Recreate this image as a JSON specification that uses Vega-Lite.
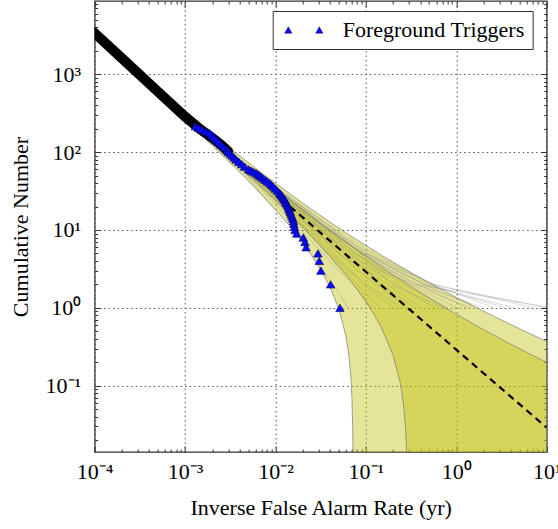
{
"$schema":"https://vega.github.io/schema/vega-lite/v6.json",
"width":452,"height":451,
"autosize":{"type":"none"},
"padding":{"left":94.7,"top":1,"right":11.3,"bottom":77},
"config":{"font":"Liberation Serif","view":{"stroke":"#333","strokeWidth":1.3},
"axis":{"labelFont":"Liberation Serif","labelFontSize":22,"titleFont":"Liberation Serif","titleFontSize":22,"titleFontWeight":"normal","labelColor":"black","titleColor":"black","tickColor":"#333","tickWidth":1,"domain":false,"labelOverlap":false,"labelFlush":false,"gridColor":"#555","gridDash":[1.5,3],"gridWidth":1}},
"datasets":{
"outer":[{"x":0.0017,"hi":196.7,"lo":144.5},{"x":0.002,"hi":169.1,"lo":120.9},{"x":0.003,"hi":116.3,"lo":77.0},{"x":0.004,"hi":89.5,"lo":55.5},{"x":0.006,"hi":62.2,"lo":34.4},{"x":0.008,"hi":48.3,"lo":24.2},{"x":0.01,"hi":39.8,"lo":18.2},{"x":0.013,"hi":31.8,"lo":12.9},{"x":0.016,"hi":26.6,"lo":9.61},{"x":0.02,"hi":22.1,"lo":6.88},{"x":0.025,"hi":18.4,"lo":4.79},{"x":0.03,"hi":15.9,"lo":3.45},{"x":0.04,"hi":12.6,"lo":1.86},{"x":0.05,"hi":10.6,"lo":0.984},{"x":0.06,"hi":9.23,"lo":0.437},{"x":0.065,"hi":8.69,"lo":0.238},{"x":0.068,"hi":8.40,"lo":0.135},{"x":0.07,"hi":8.21,"lo":0.0723},{"x":0.0715,"hi":8.08,"lo":0.028},{"x":0.0722,"hi":8.03,"lo":0.0085},{"x":0.0725,"hi":8.0,"lo":0.001},{"x":0.1,"hi":6.31,"lo":0.001},{"x":0.15,"hi":4.71,"lo":0.001},{"x":0.2,"hi":3.86,"lo":0.001},{"x":0.3,"hi":2.93,"lo":0.001},{"x":0.5,"hi":2.10,"lo":0.001},{"x":0.7,"hi":1.70,"lo":0.001},{"x":1,"hi":1.367,"lo":0.001},{"x":1.5,"hi":1.073,"lo":0.001},{"x":2,"hi":0.907,"lo":0.001},{"x":3,"hi":0.719,"lo":0.001},{"x":5,"hi":0.540,"lo":0.001},{"x":7,"hi":0.448,"lo":0.001},{"x":10,"hi":0.370,"lo":0.001}],
"inner":[{"x":0.0017,"hi":183.7,"lo":157.5},{"x":0.002,"hi":157.0,"lo":133.0},{"x":0.003,"hi":106.5,"lo":86.8},{"x":0.004,"hi":81.0,"lo":64.0},{"x":0.006,"hi":55.3,"lo":41.4},{"x":0.008,"hi":42.3,"lo":30.2},{"x":0.01,"hi":34.4,"lo":23.6},{"x":0.013,"hi":27.0,"lo":17.6},{"x":0.016,"hi":22.4,"lo":13.9},{"x":0.02,"hi":18.3,"lo":10.7},{"x":0.025,"hi":15.0,"lo":8.19},{"x":0.03,"hi":12.8,"lo":6.56},{"x":0.04,"hi":9.94,"lo":4.56},{"x":0.05,"hi":8.21,"lo":3.39},{"x":0.06,"hi":7.03,"lo":2.64},{"x":0.08,"hi":5.53,"lo":1.721},{"x":0.1,"hi":4.60,"lo":1.197},{"x":0.12,"hi":3.97,"lo":0.862},{"x":0.15,"hi":3.32,"lo":0.543},{"x":0.2,"hi":2.65,"lo":0.246},{"x":0.24,"hi":2.31,"lo":0.109},{"x":0.26,"hi":2.17,"lo":0.0593},{"x":0.275,"hi":2.08,"lo":0.0277},{"x":0.283,"hi":2.04,"lo":0.0124},{"x":0.29,"hi":2.0,"lo":0.001},{"x":0.3,"hi":1.95,"lo":0.001},{"x":0.5,"hi":1.342,"lo":0.001},{"x":0.7,"hi":1.058,"lo":0.001},{"x":1,"hi":0.829,"lo":0.001},{"x":1.5,"hi":0.633,"lo":0.001},{"x":2,"hi":0.526,"lo":0.001},{"x":3,"hi":0.408,"lo":0.001},{"x":5,"hi":0.299,"lo":0.001},{"x":7,"hi":0.245,"lo":0.001},{"x":10,"hi":0.199,"lo":0.001}],
"bg":[
{"g":1,"x":0.00164,"y":180},{"g":1,"x":0.00307,"y":100},{"g":1,"x":0.0058,"y":55},{"g":1,"x":0.01141,"y":30},{"g":1,"x":0.02062,"y":18},{"g":1,"x":0.03142,"y":12},{"g":1,"x":0.05438,"y":8},{"g":1,"x":0.087,"y":5},{"g":1,"x":0.1934,"y":3},{"g":1,"x":0.377,"y":2},{"g":1,"x":1.305,"y":1},
{"g":2,"x":0.00158,"y":180},{"g":2,"x":0.00273,"y":100},{"g":2,"x":0.00474,"y":55},{"g":2,"x":0.00832,"y":30},{"g":2,"x":0.01289,"y":18},{"g":2,"x":0.01885,"y":12},{"g":2,"x":0.0261,"y":8},{"g":2,"x":0.03828,"y":5},{"g":2,"x":0.058,"y":3},{"g":2,"x":0.0798,"y":2},{"g":2,"x":0.145,"y":1},
{"g":3,"x":0.00161,"y":180},{"g":3,"x":0.0029,"y":100},{"g":3,"x":0.00553,"y":55},{"g":3,"x":0.01141,"y":30},{"g":3,"x":0.01853,"y":18},{"g":3,"x":0.03094,"y":12},{"g":3,"x":0.04785,"y":8},{"g":3,"x":0.0928,"y":5},{"g":3,"x":0.232,"y":3},{"g":3,"x":0.435,"y":2},{"g":3,"x":1.74,"y":1},
{"g":4,"x":0.00163,"y":180},{"g":4,"x":0.00284,"y":100},{"g":4,"x":0.00501,"y":55},{"g":4,"x":0.00899,"y":30},{"g":4,"x":0.01611,"y":18},{"g":4,"x":0.02248,"y":12},{"g":4,"x":0.03335,"y":8},{"g":4,"x":0.0493,"y":5},{"g":4,"x":0.1015,"y":3},{"g":4,"x":0.174,"y":2},{"g":4,"x":0.406,"y":1},
{"g":5,"x":0.00159,"y":180},{"g":5,"x":0.00307,"y":100},{"g":5,"x":0.00606,"y":55},{"g":5,"x":0.01238,"y":30},{"g":5,"x":0.02288,"y":18},{"g":5,"x":0.03746,"y":12},{"g":5,"x":0.06344,"y":8},{"g":5,"x":0.1218,"y":5},{"g":5,"x":0.2804,"y":3},{"g":5,"x":0.551,"y":2},{"g":5,"x":2.61,"y":1},
{"g":6,"x":0.00161,"y":180},{"g":6,"x":0.00281,"y":100},{"g":6,"x":0.00511,"y":55},{"g":6,"x":0.01035,"y":30},{"g":6,"x":0.01579,"y":18},{"g":6,"x":0.0261,"y":12},{"g":6,"x":0.0406,"y":8},{"g":6,"x":0.0725,"y":5},{"g":6,"x":0.1499,"y":3},{"g":6,"x":0.261,"y":2},{"g":6,"x":0.812,"y":1},
{"g":7,"x":0.00156,"y":180},{"g":7,"x":0.00264,"y":100},{"g":7,"x":0.00448,"y":55},{"g":7,"x":0.00754,"y":30},{"g":7,"x":0.0116,"y":18},{"g":7,"x":0.01644,"y":12},{"g":7,"x":0.02284,"y":8},{"g":7,"x":0.03364,"y":5},{"g":7,"x":0.0503,"y":3},{"g":7,"x":0.0725,"y":2},{"g":7,"x":0.116,"y":1},
{"g":8,"x":0.00166,"y":180},{"g":8,"x":0.00316,"y":100},{"g":8,"x":0.00569,"y":55},{"g":8,"x":0.01083,"y":30},{"g":8,"x":0.02094,"y":18},{"g":8,"x":0.0319,"y":12},{"g":8,"x":0.0551,"y":8},{"g":8,"x":0.1044,"y":5},{"g":8,"x":0.2127,"y":3},{"g":8,"x":0.464,"y":2},{"g":8,"x":3.48,"y":1},
{"g":9,"x":0.00161,"y":180},{"g":9,"x":0.00302,"y":100},{"g":9,"x":0.00527,"y":55},{"g":9,"x":0.00986,"y":30},{"g":9,"x":0.01804,"y":18},{"g":9,"x":0.02659,"y":12},{"g":9,"x":0.0406,"y":8},{"g":9,"x":0.0667,"y":5},{"g":9,"x":0.1209,"y":3},{"g":9,"x":0.2175,"y":2},{"g":9,"x":0.58,"y":1},
{"g":10,"x":0.00158,"y":180},{"g":10,"x":0.00284,"y":100},{"g":10,"x":0.00485,"y":55},{"g":10,"x":0.00948,"y":30},{"g":10,"x":0.0145,"y":18},{"g":10,"x":0.02224,"y":12},{"g":10,"x":0.03408,"y":8},{"g":10,"x":0.058,"y":5},{"g":10,"x":0.1064,"y":3},{"g":10,"x":0.145,"y":2},{"g":10,"x":0.348,"y":1},
{"g":11,"x":0.00164,"y":180},{"g":11,"x":0.00313,"y":100},{"g":11,"x":0.00622,"y":55},{"g":11,"x":0.01189,"y":30},{"g":11,"x":0.02223,"y":18},{"g":11,"x":0.03626,"y":12},{"g":11,"x":0.05728,"y":8},{"g":11,"x":0.1015,"y":5},{"g":11,"x":0.2514,"y":3},{"g":11,"x":0.58,"y":2},{"g":11,"x":7.25,"y":1},
{"g":12,"x":0.00161,"y":180},{"g":12,"x":0.00276,"y":100},{"g":12,"x":0.00506,"y":55},{"g":12,"x":0.00832,"y":30},{"g":12,"x":0.01369,"y":18},{"g":12,"x":0.01885,"y":12},{"g":12,"x":0.02973,"y":8},{"g":12,"x":0.0435,"y":5},{"g":12,"x":0.0677,"y":3},{"g":12,"x":0.0943,"y":2},{"g":12,"x":0.203,"y":1},
{"g":13,"x":0.00163,"y":180},{"g":13,"x":0.00293,"y":100},{"g":13,"x":0.00559,"y":55},{"g":13,"x":0.01064,"y":30},{"g":13,"x":0.01837,"y":18},{"g":13,"x":0.03094,"y":12},{"g":13,"x":0.04713,"y":8},{"g":13,"x":0.0754,"y":5},{"g":13,"x":0.1644,"y":3},{"g":13,"x":0.3045,"y":2},{"g":13,"x":1.015,"y":1},
{"g":14,"x":0.00159,"y":180},{"g":14,"x":0.00299,"y":100},{"g":14,"x":0.00538,"y":55},{"g":14,"x":0.01025,"y":30},{"g":14,"x":0.01772,"y":18},{"g":14,"x":0.02804,"y":12},{"g":14,"x":0.04423,"y":8},{"g":14,"x":0.08,"y":5},{"g":14,"x":0.1402,"y":3},{"g":14,"x":0.348,"y":2},{"g":14,"x":11.6,"y":1},
{"g":15,"x":0.00161,"y":180},{"g":15,"x":0.00293,"y":100},{"g":15,"x":0.00516,"y":55},{"g":15,"x":0.00928,"y":30},{"g":15,"x":0.01482,"y":18},{"g":15,"x":0.02127,"y":12},{"g":15,"x":0.0319,"y":8},{"g":15,"x":0.05104,"y":5},{"g":15,"x":0.0822,"y":3},{"g":15,"x":0.1305,"y":2},{"g":15,"x":0.29,"y":1},
{"g":16,"x":0.00164,"y":180},{"g":16,"x":0.00307,"y":100},{"g":16,"x":0.0058,"y":55},{"g":16,"x":0.01064,"y":30},{"g":16,"x":0.01965,"y":18},{"g":16,"x":0.029,"y":12},{"g":16,"x":0.05003,"y":8},{"g":16,"x":0.0928,"y":5},{"g":16,"x":0.1886,"y":3},{"g":16,"x":0.3625,"y":2},{"g":16,"x":2.03,"y":1},
{"g":17,"x":0.00158,"y":180},{"g":17,"x":0.00281,"y":100},{"g":17,"x":0.00538,"y":55},{"g":17,"x":0.00996,"y":30},{"g":17,"x":0.01659,"y":18},{"g":17,"x":0.02707,"y":12},{"g":17,"x":0.03988,"y":8},{"g":17,"x":0.0609,"y":5},{"g":17,"x":0.1354,"y":3},{"g":17,"x":0.1885,"y":2},{"g":17,"x":0.725,"y":1},
{"g":18,"x":0.00161,"y":180},{"g":18,"x":0.00302,"y":100},{"g":18,"x":0.0059,"y":55},{"g":18,"x":0.01122,"y":30},{"g":18,"x":0.0203,"y":18},{"g":18,"x":0.03384,"y":12},{"g":18,"x":0.05148,"y":8},{"g":18,"x":0.0957,"y":5},{"g":18,"x":0.2224,"y":3},{"g":18,"x":0.435,"y":2},{"g":18,"x":4.35,"y":1},
{"g":19,"x":0.00163,"y":180},{"g":19,"x":0.00278,"y":100},{"g":19,"x":0.00474,"y":55},{"g":19,"x":0.00861,"y":30},{"g":19,"x":0.01369,"y":18},{"g":19,"x":0.01934,"y":12},{"g":19,"x":0.02791,"y":8},{"g":19,"x":0.0406,"y":5},{"g":19,"x":0.0638,"y":3},{"g":19,"x":0.1015,"y":2},{"g":19,"x":0.2465,"y":1},
{"g":20,"x":0.00159,"y":180},{"g":20,"x":0.00302,"y":100},{"g":20,"x":0.00574,"y":55},{"g":20,"x":0.0116,"y":30},{"g":20,"x":0.01982,"y":18},{"g":20,"x":0.0319,"y":12},{"g":20,"x":0.05148,"y":8},{"g":20,"x":0.0899,"y":5},{"g":20,"x":0.1837,"y":3},{"g":20,"x":0.319,"y":2},{"g":20,"x":1.45,"y":1},
{"g":21,"x":0.00156,"y":180},{"g":21,"x":0.00267,"y":100},{"g":21,"x":0.00453,"y":55},{"g":21,"x":0.00677,"y":30},{"g":21,"x":0.00967,"y":18},{"g":21,"x":0.01209,"y":12},{"g":21,"x":0.01668,"y":8},{"g":21,"x":0.0232,"y":5},{"g":21,"x":0.0329,"y":3},{"g":21,"x":0.0435,"y":2},{"g":21,"x":0.0638,"y":1},
{"g":22,"x":0.00164,"y":180},{"g":22,"x":0.0031,"y":100},{"g":22,"x":0.00601,"y":55},{"g":22,"x":0.01228,"y":30},{"g":22,"x":0.02191,"y":18},{"g":22,"x":0.03577,"y":12},{"g":22,"x":0.05873,"y":8},{"g":22,"x":0.1102,"y":5},{"g":22,"x":0.2611,"y":3},{"g":22,"x":0.5075,"y":2},{"g":22,"x":10.15,"y":1}],
"black":[{"x":0.00008,"y":4280},{"x":0.0001,"y":3370},{"x":0.0002,"y":1600},{"x":0.0005,"y":596},{"x":0.001,"y":285},{"x":0.0015,"y":193},{"x":0.002,"y":152},{"x":0.0025,"y":124},{"x":0.003,"y":102}],
"dash":[{"x":0.0145,"y":20},{"x":10,"y":0.029}],
"fg":[{"x":0.0013,"y":215},{"x":0.00141,"y":205},{"x":0.00154,"y":195},{"x":0.00169,"y":185},{"x":0.00186,"y":175},{"x":0.00197,"y":165},{"x":0.00208,"y":155},{"x":0.0022,"y":145},{"x":0.00234,"y":135},{"x":0.00249,"y":125},{"x":0.00269,"y":115},{"x":0.00291,"y":105},{"x":0.00303,"y":100},{"x":0.00317,"y":95},{"x":0.00333,"y":90},{"x":0.00349,"y":85},{"x":0.00367,"y":80},{"x":0.00392,"y":75},{"x":0.00421,"y":70},{"x":0.00454,"y":65},{"x":0.00503,"y":60},{"x":0.00536,"y":58},{"x":0.00569,"y":56},{"x":0.00607,"y":54},{"x":0.00637,"y":52},{"x":0.00665,"y":50},{"x":0.00698,"y":48},{"x":0.00731,"y":46},{"x":0.00771,"y":44},{"x":0.00813,"y":42},{"x":0.00861,"y":40},{"x":0.00902,"y":38},{"x":0.00946,"y":36},{"x":0.00993,"y":34},{"x":0.01047,"y":32},{"x":0.01107,"y":30},{"x":0.01135,"y":29},{"x":0.01161,"y":28},{"x":0.01189,"y":27},{"x":0.01217,"y":26},{"x":0.01247,"y":25},{"x":0.01279,"y":24},{"x":0.01301,"y":23},{"x":0.01327,"y":22},{"x":0.01355,"y":21},{"x":0.01384,"y":20},{"x":0.01406,"y":19},{"x":0.01429,"y":18},{"x":0.01455,"y":17},{"x":0.01483,"y":16},{"x":0.01514,"y":15},{"x":0.01552,"y":14},{"x":0.01581,"y":13},{"x":0.01596,"y":12},{"x":0.01618,"y":11},{"x":0.01644,"y":10},{"x":0.01718,"y":9},{"x":0.0203,"y":8},{"x":0.0212,"y":7},{"x":0.0218,"y":6},{"x":0.0295,"y":5},{"x":0.0305,"y":4},{"x":0.0318,"y":3},{"x":0.0407,"y":2},{"x":0.0516,"y":1}]
},
"resolve":{"axis":{"x":"independent","y":"independent"}},
"layer":[
{"data":{"name":"outer"},"mark":{"type":"area","clip":true,"fill":"#bfbf00","fillOpacity":0.4,"stroke":"#7a7a7a","strokeOpacity":0.7,"strokeWidth":1},
"encoding":{
"x":{"field":"x","type":"quantitative","scale":{"type":"log","domain":[0.0001,10],"nice":false},
"axis":{"orient":"bottom","title":"Inverse False Alarm Rate (yr)","titlePadding":12,
"values":[0.0001,0.0002,0.0003,0.0004,0.0005,0.0006,0.0007,0.0008,0.0009,0.001,0.002,0.003,0.004,0.005,0.006,0.007,0.008,0.009,0.01,0.02,0.03,0.04,0.05,0.06,0.07,0.08,0.09,0.1,0.2,0.3,0.4,0.5,0.6,0.7,0.8,0.9,1,2,3,4,5,6,7,8,9,10],
"labelExpr":"datum.value==0.0001?'10⁻⁴':datum.value==0.001?'10⁻³':datum.value==0.01?'10⁻²':datum.value==0.1?'10⁻¹':datum.value==1?'10⁰':datum.value==10?'10¹':''",
"grid":true,
"gridOpacity":{"condition":{"test":"indexof([0.0001,0.001,0.01,0.1,1,10],datum.value)>=0","value":1},"value":0},
"tickSize":{"condition":{"test":"indexof([0.0001,0.001,0.01,0.1,1,10],datum.value)>=0","value":-6},"value":-3},
"labelPadding":15}},
"y":{"field":"hi","type":"quantitative","scale":{"type":"log","domain":[0.0141,8700],"nice":false},
"axis":{"orient":"left","title":"Cumulative Number","titlePadding":13,
"values":[0.02,0.03,0.04,0.05,0.06,0.07,0.08,0.09,0.1,0.2,0.3,0.4,0.5,0.6,0.7,0.8,0.9,1,2,3,4,5,6,7,8,9,10,20,30,40,50,60,70,80,90,100,200,300,400,500,600,700,800,900,1000,2000,3000,4000,5000,6000,7000,8000],
"labelExpr":"datum.value==0.1?'10⁻¹':datum.value==1?'10⁰':datum.value==10?'10¹':datum.value==100?'10²':datum.value==1000?'10³':''",
"grid":true,
"gridOpacity":{"condition":{"test":"indexof([0.1,1,10,100,1000],datum.value)>=0","value":1},"value":0},
"tickSize":{"condition":{"test":"indexof([0.1,1,10,100,1000],datum.value)>=0","value":-6},"value":-3},
"labelPadding":20}},
"y2":{"field":"lo"}}},
{"data":{"name":"inner"},"mark":{"type":"area","clip":true,"fill":"#bfbf00","fillOpacity":0.4,"stroke":"#7a7a7a","strokeOpacity":0.7,"strokeWidth":1},
"encoding":{
"x":{"field":"x","type":"quantitative","scale":{"type":"log","domain":[0.0001,10],"nice":false},"axis":null},
"y":{"field":"hi","type":"quantitative","scale":{"type":"log","domain":[0.0141,8700],"nice":false},"axis":null},
"y2":{"field":"lo"}}},
{"data":{"name":"bg"},"mark":{"type":"line","clip":true,"stroke":"#808080","strokeOpacity":0.28,"strokeWidth":1},
"encoding":{
"x":{"field":"x","type":"quantitative","scale":{"type":"log","domain":[0.0001,10],"nice":false},"axis":null},
"y":{"field":"y","type":"quantitative","scale":{"type":"log","domain":[0.0141,8700],"nice":false},"axis":null},
"detail":{"field":"g","type":"nominal"}}},
{"data":{"name":"black"},"mark":{"type":"line","clip":true,"stroke":"black","strokeWidth":10,"strokeCap":"round"},
"encoding":{
"x":{"field":"x","type":"quantitative","scale":{"type":"log","domain":[0.0001,10],"nice":false},"axis":null},
"y":{"field":"y","type":"quantitative","scale":{"type":"log","domain":[0.0141,8700],"nice":false},"axis":null}}},
{"data":{"name":"dash"},"mark":{"type":"line","clip":true,"stroke":"black","strokeWidth":2.2,"strokeDash":[7,5]},
"encoding":{
"x":{"field":"x","type":"quantitative","scale":{"type":"log","domain":[0.0001,10],"nice":false},
"axis":{"orient":"top","title":null,"labels":false,"grid":false,
"values":[0.0001,0.0002,0.0003,0.0004,0.0005,0.0006,0.0007,0.0008,0.0009,0.001,0.002,0.003,0.004,0.005,0.006,0.007,0.008,0.009,0.01,0.02,0.03,0.04,0.05,0.06,0.07,0.08,0.09,0.1,0.2,0.3,0.4,0.5,0.6,0.7,0.8,0.9,1,2,3,4,5,6,7,8,9,10],
"tickSize":{"condition":{"test":"indexof([0.0001,0.001,0.01,0.1,1,10],datum.value)>=0","value":-6},"value":-3}}},
"y":{"field":"y","type":"quantitative","scale":{"type":"log","domain":[0.0141,8700],"nice":false},
"axis":{"orient":"right","title":null,"labels":false,"grid":false,
"values":[0.02,0.03,0.04,0.05,0.06,0.07,0.08,0.09,0.1,0.2,0.3,0.4,0.5,0.6,0.7,0.8,0.9,1,2,3,4,5,6,7,8,9,10,20,30,40,50,60,70,80,90,100,200,300,400,500,600,700,800,900,1000,2000,3000,4000,5000,6000,7000,8000],
"tickSize":{"condition":{"test":"indexof([0.1,1,10,100,1000],datum.value)>=0","value":-6},"value":-3}}}}},
{"data":{"name":"fg"},"mark":{"type":"point","shape":"triangle-up","filled":true,"size":72,"stroke":"#00005a","strokeWidth":0.6,"opacity":1,"clip":true},
"encoding":{
"x":{"field":"x","type":"quantitative","scale":{"type":"log","domain":[0.0001,10],"nice":false},"axis":null},
"y":{"field":"y","type":"quantitative","scale":{"type":"log","domain":[0.0141,8700],"nice":false},"axis":null},
"fill":{"datum":"Foreground Triggers","type":"nominal","scale":{"range":["#0a0aff"]},
"legend":{"orient":"none","legendX":178,"legendY":10,"title":null,"symbolType":"M-1.4,0.64L-0.68,-0.64L0.04,0.64Z M4.8,0.64L5.52,-0.64L6.24,0.64Z","symbolSize":100,"symbolStrokeColor":"#00005a","symbolStrokeWidth":0.5,"labelFont":"Liberation Serif","labelFontSize":22,"labelColor":"black","labelLimit":400,"labelOffset":40,"padding":8,"strokeColor":"#333","fillColor":"white","cornerRadius":0}}}}
]
}
